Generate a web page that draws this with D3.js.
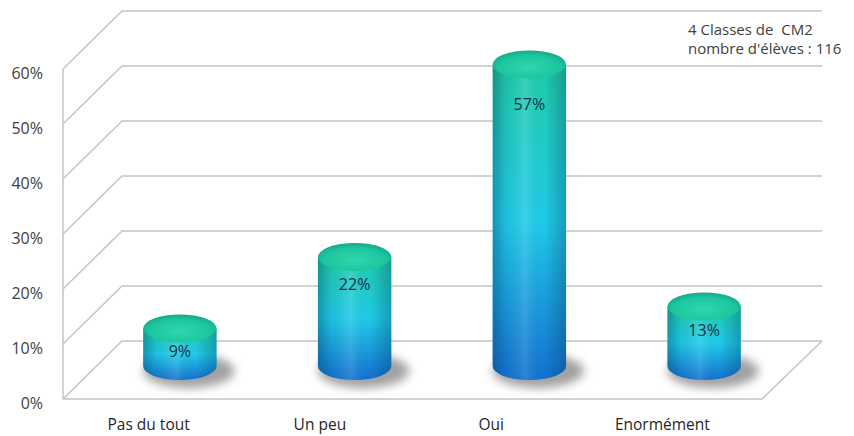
<!DOCTYPE html>
<html>
<head>
<meta charset="utf-8">
<script src="https://cdn.jsdelivr.net/npm/d3@7"></script>
<style>
  html, body { margin: 0; padding: 0; background: #ffffff; }
  svg { display: block; }
  text { font-family: "Open Sans", "Noto Sans", sans-serif; white-space: pre; }
</style>
</head>
<body>
<svg id="chart" width="854" height="436"></svg>
<script>
// ---- data ----
const categories = ["Pas du tout", "Un peu", "Oui", "Enormément"];
const values = [0.09, 0.22, 0.57, 0.13];
const valueLabels = ["9%", "22%", "57%", "13%"];
const yTicks = [0, 0.1, 0.2, 0.3, 0.4, 0.5, 0.6];
const noteLines = ["4 Classes de  CM2", "nombre d'élèves : 116"];

// ---- layout ----
const svg = d3.select("#chart");
const depthX = 59, depthY = -58;           // 3D depth offset
const y = d3.scaleLinear().domain([0, 0.6]).range([399, 69]);
const x = d3.scaleBand().domain(categories).range([63, 762]).padding(0);
const xLabel = d3.scaleBand().domain(categories).range([63, 748]).padding(0);
const backRight = 822;
const gridColor = "#c4c4c4";

const defs = svg.append("defs");
const gBody = defs.append("linearGradient").attr("id", "body").attr("x1", 0).attr("y1", 0).attr("x2", 0).attr("y2", 1);
[["0%", "#1ec9a3"], ["12%", "#20cdb8"], ["50%", "#1fcbea"], ["100%", "#1470d0"]]
  .forEach(([o, c]) => gBody.append("stop").attr("offset", o).attr("stop-color", c));
const gShade = defs.append("linearGradient").attr("id", "shade").attr("x1", 0).attr("y1", 0).attr("x2", 1).attr("y2", 0);
[["0%", "#003050", 0.35], ["18%", "#003050", 0.08], ["45%", "#ffffff", 0.12], ["70%", "#003050", 0.0], ["100%", "#003050", 0.3]]
  .forEach(([o, c, a]) => gShade.append("stop").attr("offset", o).attr("stop-color", c).attr("stop-opacity", a));
const gTop = defs.append("radialGradient").attr("id", "top").attr("cx", "50%").attr("cy", "60%").attr("r", "60%");
[["0%", "#2fd6ad"], ["70%", "#1dc69f"], ["100%", "#12a887"]]
  .forEach(([o, c]) => gTop.append("stop").attr("offset", o).attr("stop-color", c));
defs.append("filter").attr("id", "blur").attr("x", "-50%").attr("y", "-50%").attr("width", "200%").attr("height", "200%")
  .append("feGaussianBlur").attr("stdDeviation", 5);

// ---- walls / gridlines ----
const grid = svg.append("g").attr("fill", "none").attr("stroke", gridColor).attr("stroke-width", 1.5);
grid.selectAll("path.gl").data(yTicks).join("path")
  .attr("class", "gl")
  .attr("d", d => `M${x.range()[0]},${y(d)}L${x.range()[0] + depthX},${y(d) + depthY}L${backRight},${y(d) + depthY}`);
grid.append("path")
  .attr("d", `M${x.range()[0]},${y(0)}L${x.range()[1]},${y(0)}L${backRight},${y(0) + depthY}`);
grid.append("line")
  .attr("x1", x.range()[0]).attr("x2", x.range()[0])
  .attr("y1", y(0.6)).attr("y2", y(0));

// ---- y axis labels ----
const yAxis = d3.axisLeft(y).tickValues(yTicks).tickFormat(d3.format(".0%")).tickSize(0).tickPadding(20);
const ya = svg.append("g").attr("transform", `translate(${x.range()[0]},4)`).call(yAxis);
ya.select(".domain").remove();
ya.selectAll("text").attr("fill", "#404040").style("font-size", "16px").style("font-family", "'Open Sans', sans-serif");

// ---- x labels ----
svg.append("g").selectAll("text").data(categories).join("text")
  .attr("x", d => xLabel(d) + xLabel.bandwidth() / 2)
  .attr("y", 430)
  .attr("text-anchor", "middle")
  .attr("fill", "#262626")
  .style("font-size", "15.5px")
  .text(d => d);

// ---- cylinders ----
const rx = x.bandwidth() * 0.21, ry = 14;
const bars = categories.map((c, i) => {
  const cx = x(c) + x.bandwidth() / 2 + depthX / 2;
  const topY = y(values[i]) + depthY / 2 + 8;
  const botY = y(0) + depthY / 2 - 4;
  return { c, v: values[i], label: valueLabels[i], cx, topY, botY };
});

svg.append("g").selectAll("ellipse").data(bars).join("ellipse")
  .attr("cx", d => d.cx + 9)
  .attr("cy", d => d.botY + 5)
  .attr("rx", rx + 9)
  .attr("ry", ry + 3)
  .attr("fill", "#707070")
  .attr("opacity", 0.65)
  .attr("filter", "url(#blur)");

const bodyPath = d => `M${d.cx - rx},${d.topY}L${d.cx - rx},${d.botY}` +
  `A${rx},${ry} 0 0 0 ${d.cx + rx},${d.botY}L${d.cx + rx},${d.topY}Z`;

const cyl = svg.append("g").selectAll("g").data(bars).join("g");
cyl.append("path").attr("d", bodyPath).attr("fill", "url(#body)");
cyl.append("path").attr("d", bodyPath).attr("fill", "url(#shade)");
cyl.append("ellipse")
  .attr("cx", d => d.cx).attr("cy", d => d.topY)
  .attr("rx", rx).attr("ry", ry)
  .attr("fill", "url(#top)");
cyl.append("text")
  .attr("x", d => d.cx)
  .attr("y", d => d.topY + 20 + 0.065 * (d.botY - d.topY))
  .attr("dy", "0.35em")
  .attr("text-anchor", "middle")
  .attr("fill", "#16304a")
  .style("font-size", "16px")
  .text(d => d.label);

// ---- note ----
svg.append("g").selectAll("text").data(noteLines).join("text")
  .attr("x", 688)
  .attr("y", (d, i) => 35 + i * 19)
  .attr("fill", "#404040")
  .style("font-size", "15px")
  .text(d => d);
</script>
</body>
</html>
